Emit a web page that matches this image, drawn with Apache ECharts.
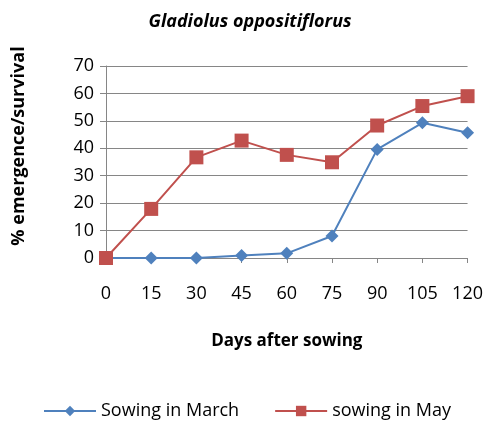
<!DOCTYPE html>
<html>
<head>
<meta charset="utf-8">
<script src="https://cdn.jsdelivr.net/npm/echarts@6/dist/echarts.min.js"></script>
<style>
  html, body { margin: 0; padding: 0; background: #fff; }
  #chart { width: 486px; height: 421px; }
</style>
</head>
<body>
<div id="chart"></div>
<script>
// days after sowing
const days = [0, 15, 30, 45, 60, 75, 90, 105, 120];
// % emergence/survival
const march = [0, 0, 0, 0.9, 1.7, 8, 39.6, 49.3, 45.7];
const may = [0, 17.9, 36.7, 42.8, 37.6, 34.9, 48.3, 55.4, 59];

const font = "'Open Sans', 'Liberation Sans', sans-serif";

const chart = echarts.init(document.getElementById('chart'));
chart.setOption({
  animation: false,
  title: {
    text: 'Gladiolus oppositiflorus',
    left: 245,
    top: 8,
    textAlign: 'center',
    textStyle: { fontFamily: font, fontSize: 18, fontWeight: 'bold', fontStyle: 'italic', color: '#000' }
  },
  grid: { left: 106, right: 18, top: 66, bottom: 163 },
  legend: {
    top: 397,
    left: 38,
    itemWidth: 52,
    itemHeight: 13,
    itemGap: 35,
    textStyle: { fontFamily: font, fontSize: 18, color: '#000' },
    data: ['Sowing in March', 'sowing in May']
  },
  xAxis: {
    type: 'value',
    min: 0,
    max: 120,
    interval: 15,
    name: 'Days after sowing',
    nameLocation: 'middle',
    nameGap: 75,
    nameTextStyle: { fontFamily: font, fontSize: 17, fontWeight: 'bold', color: '#000' },
    axisLine: { lineStyle: { color: '#868686' } },
    axisTick: { show: true, length: 5, lineStyle: { color: '#868686' } },
    axisLabel: { margin: 27, fontFamily: font, fontSize: 18, color: '#000' },
    splitLine: { show: false }
  },
  yAxis: {
    type: 'value',
    min: 0,
    max: 70,
    interval: 10,
    name: '% emergence/survival',
    nameLocation: 'middle',
    nameGap: 78,
    nameTextStyle: { fontFamily: font, fontSize: 18, fontWeight: 'bold', color: '#000', padding: [0, 0, 0, 32] },
    axisLine: { show: true, lineStyle: { color: '#868686' } },
    axisTick: { show: true, length: 6, lineStyle: { color: '#868686' } },
    axisLabel: { margin: 12, fontFamily: font, fontSize: 18, color: '#000' },
    splitLine: { lineStyle: { color: '#868686' } }
  },
  series: [
    {
      name: 'Sowing in March',
      type: 'line',
      data: days.map((d, i) => [d, march[i]]),
      symbol: 'diamond',
      symbolSize: 13,
      itemStyle: { color: '#4F81BD' },
      lineStyle: { color: '#4F81BD', width: 2 }
    },
    {
      name: 'sowing in May',
      type: 'line',
      data: days.map((d, i) => [d, may[i]]),
      symbol: 'rect',
      symbolSize: 14,
      itemStyle: { color: '#C0504D' },
      lineStyle: { color: '#C0504D', width: 2 }
    }
  ]
});
</script>
</body>
</html>
